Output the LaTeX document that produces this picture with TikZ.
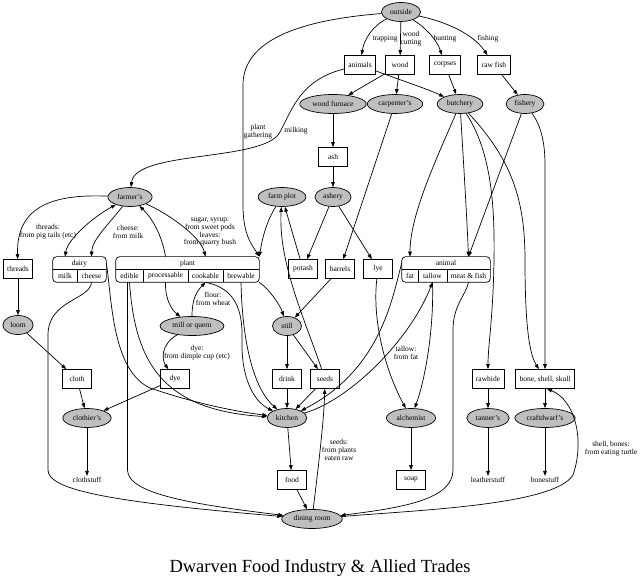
\documentclass[tikz,border=0pt]{standalone}
\usepackage{fontspec}
\setmainfont{Liberation Serif}
\usetikzlibrary{arrows.meta, shapes.geometric}

\tikzset{
  place/.style={ellipse, draw, fill=gray!50, minimum width=29pt, minimum height=19pt, inner xsep=3pt, inner ysep=0pt, font=\fontsize{7.5}{7.8}\selectfont},
  stock/.style={rectangle, draw, minimum width=29pt, minimum height=19pt, inner xsep=4pt, inner ysep=0pt, font=\fontsize{7.5}{7.8}\selectfont},
  goods/.style={inner sep=1pt, font=\fontsize{7.5}{7.8}\selectfont},
  cell/.style={rectangle, minimum height=12.5pt, inner sep=0pt, font=\fontsize{7.5}{7.8}\selectfont},
  edgelabel/.style={align=center, inner sep=0pt, font=\fontsize{7.5}{7.8}\selectfont},
}

\begin{document}
\begin{tikzpicture}[x=1pt, y=-1pt, >={Stealth[inset=0pt, length=5pt, width=3.6pt]}, line width=0.7pt]
      \useasboundingbox (0,0) rectangle (640,577);

      % places and stocks
      \node[place] (outside) at (401,12) {outside};
      \node[stock] (animals) at (360,65) {animals};
      \node[stock] (wood) at (400,65) {wood};
      \node[stock] (corpses) at (445,65) {corpses};
      \node[stock] (rawfish) at (494,65) {raw fish};
      \node[place] (woodfurnace) at (333,104) {wood furnace};
      \node[place] (carpenters) at (395,104) {carpenter's};
      \node[place] (butchery) at (460,104) {butchery};
      \node[place] (fishery) at (525,104) {fishery};
      \node[stock] (ash) at (333,157) {ash};
      \node[place] (farmers) at (130,197) {farmer's};
      \node[place] (farmplot) at (282,197) {farm plot};
      \node[place] (ashery) at (333,197) {ashery};
      \node[stock] (threads) at (18,269) {threads};
      \node[stock] (potash) at (303,269) {potash};
      \node[stock] (barrels) at (340,269) {barrels};
      \node[stock] (lye) at (378,269) {lye};
      \node[place] (loom) at (18,325) {loom};
      \node[place] (millquern) at (192,326) {mill or quern};
      \node[place] (still) at (287,326) {still};
      \node[stock] (cloth) at (77,379) {cloth};
      \node[stock] (dye) at (175,379) {dye};
      \node[stock] (drink) at (287,379) {drink};
      \node[stock] (seeds) at (325,379) {seeds};
      \node[stock] (rawhide) at (488,379) {rawhide};
      \node[stock] (bone) at (545,379) {bone, shell, skull};
      \node[place] (clothiers) at (87,418) {clothier's};
      \node[place] (kitchen) at (287,418) {kitchen};
      \node[place] (alchemist) at (411,418) {alchemist};
      \node[place] (tanners) at (488,418) {tanner's};
      \node[place] (craftdwarfs) at (545,418) {craftdwarf's};
      \node[goods] (clothstuff) at (87,480) {clothstuff};
      \node[stock] (food) at (292,480) {food};
      \node[stock] (soap) at (411,480) {soap};
      \node[goods] (leatherstuff) at (488,480) {leatherstuff};
      \node[goods] (bonestuff) at (545,480) {bonestuff};
      \node[place] (diningroom) at (312,519) {dining room};

      % records
      \node[cell, minimum width=53pt] (dairy) at (79.5,263.25) {dairy};
      \node[cell, minimum width=24pt] (milk) at (65,275.75) {milk};
      \node[cell, minimum width=29pt] (cheese) at (91.5,275.75) {cheese};
      \draw[rounded corners=4pt] (milk.south west) rectangle (dairy.north east);
      \draw (dairy.south west) -- (dairy.south east);
      \draw (milk.north east) -- (milk.south east);

      \node[cell, minimum width=143pt] (plant) at (187.5,263.25) {plant};
      \node[cell, minimum width=27pt] (edible) at (129.5,275.75) {edible};
      \node[cell, minimum width=45pt] (processable) at (165.5,275.75) {processable};
      \node[cell, minimum width=35pt] (cookable) at (205.5,275.75) {cookable};
      \node[cell, minimum width=36pt] (brewable) at (241,275.75) {brewable};
      \draw[rounded corners=4pt] (edible.south west) rectangle (plant.north east);
      \draw (plant.south west) -- (plant.south east);
      \draw (edible.north east) -- (edible.south east);
      \draw (processable.north east) -- (processable.south east);
      \draw (cookable.north east) -- (cookable.south east);

      \node[cell, minimum width=88pt] (animal) at (446,263.25) {animal};
      \node[cell, minimum width=16pt] (fat) at (410,275.75) {fat};
      \node[cell, minimum width=29pt] (tallow) at (432.5,275.75) {tallow};
      \node[cell, minimum width=43pt] (meatfish) at (468.5,275.75) {meat \& fish};
      \draw[rounded corners=4pt] (fat.south west) rectangle (animal.north east);
      \draw (animal.south west) -- (animal.south east);
      \draw (fat.north east) -- (fat.south east);
      \draw (tallow.north east) -- (tallow.south east);

      % connectors
      \draw[->] (outside) .. controls (372,26) and (364,40) .. (animals);
      \draw[->] (outside) -- (wood);
      \draw[->] (outside) .. controls (426,28) and (437,40) .. (corpses);
      \draw[->] (outside) .. controls (455,24) and (476,38) .. (rawfish);
      \draw[->] (outside) .. controls (300,20) and (243,40) .. (243,85) -- (243,205) .. controls (243,235) and (252,245) .. (plant.north east);
      \draw[->] (animals) .. controls (300,80) and (292,110) .. (280,132) .. controls (265,162) and (135,150) .. (farmers);
      \draw[->] (animals) .. controls (400,80) and (425,88) .. (butchery);
      \draw[->] (wood) -- (woodfurnace);
      \draw[->] (wood) -- (carpenters);
      \draw[->] (corpses) -- (butchery);
      \draw[->] (rawfish) -- (fishery);
      \draw[->] (woodfurnace) -- (ash);
      \draw[->] (ash) -- (ashery);
      \draw[->] (ashery) -- (potash);
      \draw[->] (ashery) -- (lye);
      \draw[->] (carpenters) -- (barrels);
      \draw[->] (butchery) .. controls (436,160) and (410,215) .. (fat |- animal.north);
      \draw[->] (butchery) .. controls (464,170) and (467,220) .. (meatfish |- animal.north);
      \draw[->] (butchery) .. controls (490,150) and (495,200) .. (494,260) .. controls (493,320) and (488,345) .. (rawhide);
      \draw[->] (butchery) .. controls (512,160) and (525,200) .. (525,260) .. controls (525,330) and (530,355) .. (bone);
      \draw[->] (fishery) -- (meatfish |- animal.north);
      \draw[->] (fishery) .. controls (540,124) and (545,140) .. (545,165) -- (bone);
      \draw[->] (farmers) .. controls (55,194) and (16,205) .. (threads);
      \draw[<->] (farmers) .. controls (95,216) and (68,238) .. (milk |- dairy.north);
      \draw[->] (farmers) .. controls (108,225) and (92,240) .. (cheese |- dairy.north);
      \draw[->] (processable |- plant.north) .. controls (162,235) and (152,218) .. (farmers);
      \draw[->] (farmers) .. controls (165,212) and (200,235) .. (cookable |- plant.north);
      \draw[->] (farmplot) .. controls (266,222) and (262,240) .. (plant.north east);
      \draw[->] (potash) -- (farmplot);
      \draw[->] (seeds) .. controls (305,320) and (278,262) .. (farmplot);
      \draw[->] (processable.south) .. controls (165,300) and (172,310) .. (millquern);
      \draw[->] (millquern) .. controls (192,300) and (196,292) .. (cookable.south);
      \draw[->] (millquern) .. controls (160,345) and (162,360) .. (dye);
      \draw[->] (cookable.south) .. controls (235,288) and (243,310) .. (242,340) .. controls (241,380) and (255,402) .. (kitchen);
      \draw[->] (brewable.south) .. controls (242,330) and (250,385) .. (kitchen);
      \draw[->] (brewable.south east) .. controls (270,290) and (280,305) .. (still);
      \draw[->] (barrels) -- (still);
      \draw[->] (edible.south) .. controls (135,360) and (160,410) .. (kitchen);
      \draw[->] ([xshift=-2pt]edible.south) -- (127.5,470) .. controls (127.5,495) and (200,505) .. (diningroom);
      \draw[->] (cheese.south) .. controls (90,300) and (48,300) .. (48,335) -- (48,470) .. controls (48,490) and (110,502) .. (diningroom);
      \draw[->] (dairy.east) .. controls (112,300) and (112,370) .. (150,388) .. controls (200,405) and (240,412) .. (kitchen);
      \draw[->] (threads) -- (loom);
      \draw[->] (loom) -- (cloth);
      \draw[->] (cloth) -- (clothiers);
      \draw[->] (dye) -- (clothiers);
      \draw[->] (clothiers) -- (clothstuff);
      \draw[->] (still) -- (drink);
      \draw[->] (still) -- (seeds);
      \draw[->] (drink) -- (kitchen);
      \draw[->] (seeds) -- (kitchen);
      \draw[->] (animal.west) .. controls (392,300) and (380,370) .. (kitchen);
      \draw[->] (kitchen) .. controls (350,400) and (410,340) .. (tallow.south);
      \draw[->] (tallow.south) .. controls (434,330) and (425,380) .. (alchemist);
      \draw[->] (lye) .. controls (372,320) and (385,370) .. (alchemist);
      \draw[->] (meatfish.south) .. controls (466,295) and (453,305) .. (453,330) -- (453,470) .. controls (453,500) and (400,508) .. (diningroom);
      \draw[->] (alchemist) -- (soap);
      \draw[->] (rawhide) -- (tanners);
      \draw[->] (tanners) -- (leatherstuff);
      \draw[->] (bone) -- (craftdwarfs);
      \draw[->] (craftdwarfs) -- (bonestuff);
      \draw[->] (kitchen) -- (food);
      \draw[->] (food) -- (diningroom);
      \draw[->] (diningroom) .. controls (318,470) and (324,420) .. (seeds);
      \draw[->] (diningroom) .. controls (420,510) and (555,505) .. (573,475) .. controls (585,440) and (575,400) .. ([xshift=2pt]bone.south);

      % connector labels
      \node[edgelabel] (ltrapping) at (385,39) {trapping};
      \node[edgelabel] (lcutting) at (411,39) {wood\\cutting};
      \node[edgelabel] (lhunting) at (445,39) {hunting};
      \node[edgelabel] (lfishing) at (488,39) {fishing};
      \node[edgelabel] (lgathering) at (258,132) {plant\\gathering};
      \node[edgelabel] (lmilking) at (296,131) {milking};
      \node[edgelabel] (lthreads) at (48,232) {threads:\\from pig tails (etc)};
      \node[edgelabel] (lcheese) at (128,232) {cheese:\\from milk};
      \node[edgelabel] (lsugar) at (210,232) {sugar, syrup:\\from sweet pods\\leaves:\\from quarry bush};
      \node[edgelabel] (lflour) at (213,299) {flour:\\from wheat};
      \node[edgelabel] (ldye) at (197,353) {dye:\\from dimple cup (etc)};
      \node[edgelabel] (ltallow) at (406,353) {tallow:\\from fat};
      \node[edgelabel] (lseeds) at (339,450) {seeds:\\from plants\\eaten raw};
      \node[edgelabel] (lturtle) at (611,449) {shell, bones:\\from eating turtle};

      \node[font=\fontsize{18.5}{20}\selectfont, anchor=base] (title) at (320,572) {Dwarven Food Industry \& Allied Trades};
    \end{tikzpicture}
\end{document}
